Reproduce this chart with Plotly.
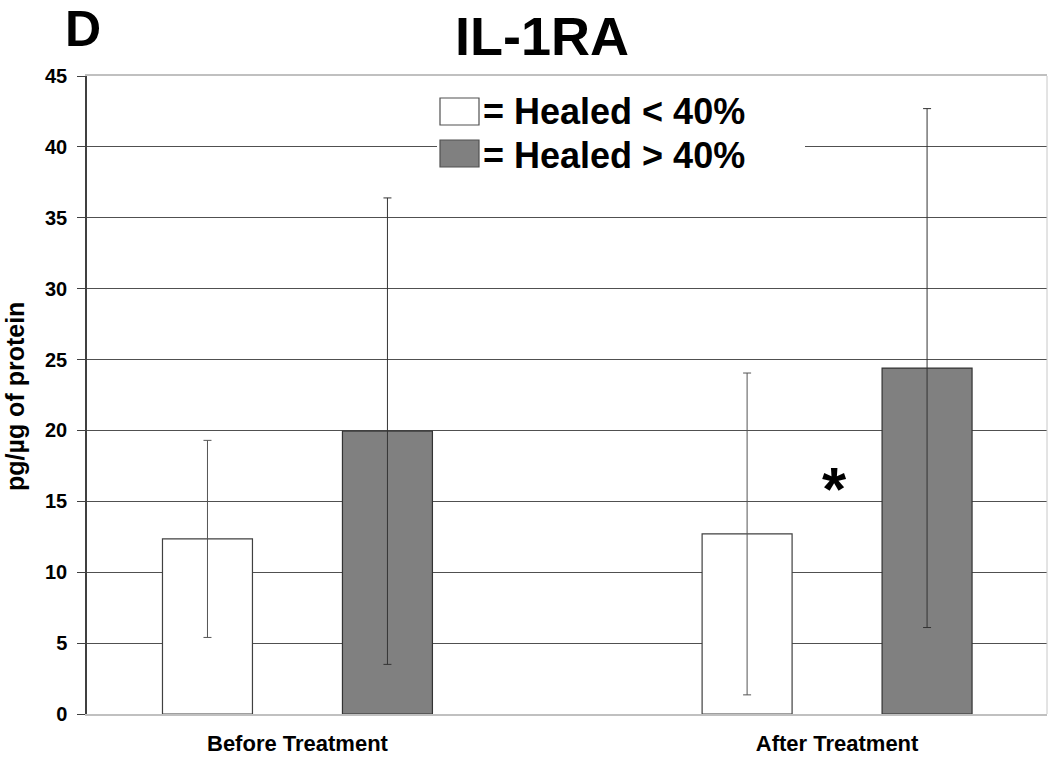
import plotly.graph_objects as go

categories = ["Before Treatment", "After Treatment"]
healed_lt40 = [12.35, 12.7]
healed_lt40_err = [6.95, 11.35]
healed_gt40 = [19.95, 24.4]
healed_gt40_err = [16.45, 18.3]
y_ticks = [0, 5, 10, 15, 20, 25, 30, 35, 40, 45]

FONT = "Liberation Sans, Arial, sans-serif"
W, H = 1050, 757
L, R, T, B = 87, 3, 76, 43
PW, PH = W - L - R, H - T - B


def px(x):
    return (x - L) / PW


def py(y):
    return (H - B - y) / PH


fig = go.Figure()
fig.add_trace(go.Bar(
    x=categories, y=healed_lt40, name="Healed < 40%",
    marker=dict(color="white", line=dict(color="#404040", width=1.2)),
    error_y=dict(type="data", array=healed_lt40_err, color="#555555", thickness=1, width=4),
    showlegend=False,
))
fig.add_trace(go.Bar(
    x=categories, y=healed_gt40, name="Healed > 40%",
    marker=dict(color="#808080", line=dict(color="#333333", width=1.2)),
    error_y=dict(type="data", array=healed_gt40_err, color="#333333", thickness=1, width=4),
    showlegend=False,
))

shapes = [
    # right border
    dict(type="line", xref="paper", yref="paper", x0=1, x1=1, y0=0, y1=1,
         line=dict(color="#c8c8c8", width=1)),
    # legend background
    dict(type="rect", xref="paper", yref="paper", x0=px(437), x1=px(805), y0=py(190), y1=py(86),
         fillcolor="white", line=dict(width=0), layer="above"),
    dict(type="rect", xref="paper", yref="paper", x0=px(440), x1=px(479), y0=py(125), y1=py(98),
         fillcolor="white", line=dict(color="#505050", width=1.2), layer="above"),
    dict(type="rect", xref="paper", yref="paper", x0=px(440), x1=px(479), y0=py(167), y1=py(140),
         fillcolor="#808080", line=dict(color="#505050", width=1.2), layer="above"),
]

annotations = [
    dict(text="<b>= Healed < 40%</b>", xref="paper", yref="paper", x=px(481), y=py(112),
         xanchor="left", yanchor="middle", showarrow=False, font=dict(family=FONT, size=36, color="black")),
    dict(text="<b>= Healed > 40%</b>", xref="paper", yref="paper", x=px(481), y=py(155),
         xanchor="left", yanchor="middle", showarrow=False, font=dict(family=FONT, size=36, color="black")),
    dict(text="<b>IL-1RA</b>", xref="paper", yref="paper", x=px(542), y=py(36),
         xanchor="center", yanchor="middle", showarrow=False, font=dict(family=FONT, size=54, color="black")),
    dict(text="<b>D</b>", xref="paper", yref="paper", x=px(83), y=py(0),
         xanchor="center", yanchor="top", showarrow=False, borderpad=0,
         font=dict(family=FONT, size=50, color="black")),
    dict(text="<b>pg/µg of protein</b>", xref="paper", yref="paper", x=px(15), y=py(397),
         xanchor="center", yanchor="middle", textangle=-90, showarrow=False,
         font=dict(family=FONT, size=25, color="black")),
    dict(text="<b>*</b>", x="After Treatment", y=15.9, xref="x", yref="y", xshift=-3,
         xanchor="center", yanchor="middle", showarrow=False,
         font=dict(family=FONT, size=62, color="black")),
]

fig.update_layout(
    width=W, height=H,
    margin=dict(l=L, r=R, t=T, b=B, autoexpand=False),
    paper_bgcolor="white", plot_bgcolor="white",
    barmode="group", bargap=0.333, bargroupgap=0.5,
    font=dict(family=FONT, color="black"),
    shapes=shapes, annotations=annotations,
    showlegend=False,
)
fig.update_xaxes(
    type="category", range=[-0.39, 1.389],
    showline=True, linecolor="#c0c0c0", linewidth=1.5, mirror=True,
    showgrid=False, ticks="", ticklabelstandoff=9,
    tickfont=dict(family=FONT, size=22, color="black"),
    tickprefix="<b>", ticksuffix="</b>",
)
fig.update_yaxes(
    range=[0, 45], tickvals=y_ticks, ticktext=[f"<b>{v}</b>" for v in y_ticks],
    showline=True, linecolor="#404040", linewidth=1.5,
    showgrid=True, gridcolor="#505050", gridwidth=1.2, zeroline=False,
    ticks="outside", ticklen=8, tickcolor="#404040", tickwidth=1.2,
    ticklabelstandoff=6,
    tickfont=dict(family=FONT, size=20, color="black"),
)

fig.write_html(
    "out.html",
    config={"displayModeBar": False},
    post_script="document.body.style.margin='0px';document.body.style.overflow='hidden';",
)
